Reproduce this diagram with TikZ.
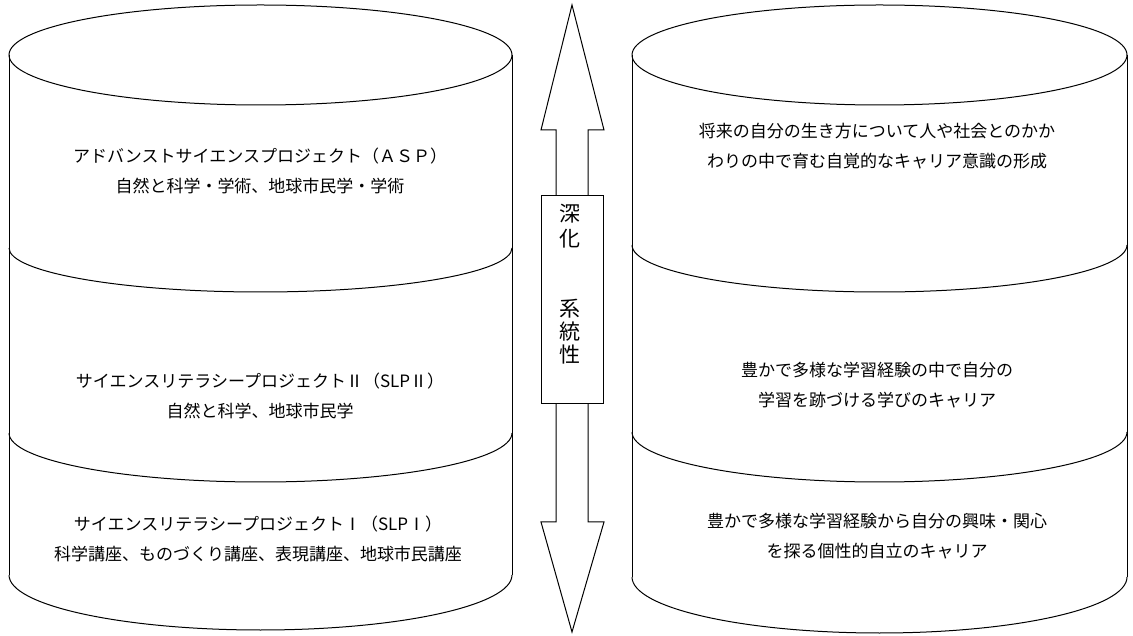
\documentclass[tikz,border=0pt]{standalone}
\usepackage{fontspec}
\newfontfamily\jp{Noto Sans CJK JP}
\tikzset{
  outline/.style={draw=black, line width=1pt},
  blocktext/.style={align=center, font=\jp\fontsize{17}{30}\selectfont, inner sep=0pt},
  vchar/.style={font=\jp\fontsize{21}{24}\selectfont, inner sep=0pt, anchor=west}
}
\begin{document}
\begin{tikzpicture}[x=1pt,y=1pt]
\useasboundingbox (0,0) rectangle (1133,635);
% ---------- left cylinder ----------
\draw[outline] (260.5,580) ellipse [x radius=251.5pt, y radius=50pt];
\draw[outline] (9,580) -- (9,60);
\draw[outline] (512,580) -- (512,60);
\draw[outline] (9,387) arc[start angle=180, end angle=360, x radius=251.5pt, y radius=44pt];
\draw[outline] (9,202) arc[start angle=180, end angle=360, x radius=251.5pt, y radius=49pt];
\draw[outline] (9,60) arc[start angle=180, end angle=360, x radius=251.5pt, y radius=55pt];
% ---------- right cylinder ----------
\draw[outline] (879.5,580) ellipse [x radius=247.5pt, y radius=50pt];
\draw[outline] (632,580) -- (632,58);
\draw[outline] (1127,580) -- (1127,58);
\draw[outline] (632,390) arc[start angle=180, end angle=360, x radius=247.5pt, y radius=47pt];
\draw[outline] (632,203) arc[start angle=180, end angle=360, x radius=247.5pt, y radius=50pt];
\draw[outline] (632,58) arc[start angle=180, end angle=360, x radius=247.5pt, y radius=56pt];
% ---------- double arrow ----------
\draw[outline, fill=white] (572,630) -- (604,505) -- (588,505) -- (588,113) -- (604,113)
  -- (572,3) -- (541,113) -- (556,113) -- (556,505) -- (541,505) -- cycle;
\node[outline, fill=white, minimum width=62pt, minimum height=208pt, inner sep=0pt] (box) at (572.5,335) {};
\node[vchar] (v1) at (559.5,421) {深};
\node[vchar] (v2) at (559.5,396) {化};
\node[vchar] (v3) at (559.5,326) {系};
\node[vchar] (v4) at (559.5,303) {統};
\node[vchar] (v5) at (559.5,280) {性};
% ---------- left texts ----------
\node[blocktext] (asp) at (260,464) {アドバンストサイエンスプロジェクト（ＡＳＰ）\\自然と科学・学術、地球市民学・学術};
\node[blocktext] (slp2) at (260,239.5) {サイエンスリテラシープロジェクトⅡ（SLPⅡ）\\自然と科学、地球市民学};
\node[blocktext] (slp1) at (258,96) {サイエンスリテラシープロジェクトⅠ（SLPⅠ）\\科学講座、ものづくり講座、表現講座、地球市民講座};
% ---------- right texts ----------
\node[blocktext] (c3) at (877,489) {将来の自分の生き方について人や社会とのかか\\わりの中で育む自覚的なキャリア意識の形成};
\node[blocktext] (c2) at (877,250) {豊かで多様な学習経験の中で自分の\\学習を跡づける学びのキャリア};
\node[blocktext] (c1) at (877,99) {豊かで多様な学習経験から自分の興味・関心\\を探る個性的自立のキャリア};
\end{tikzpicture}
\end{document}
